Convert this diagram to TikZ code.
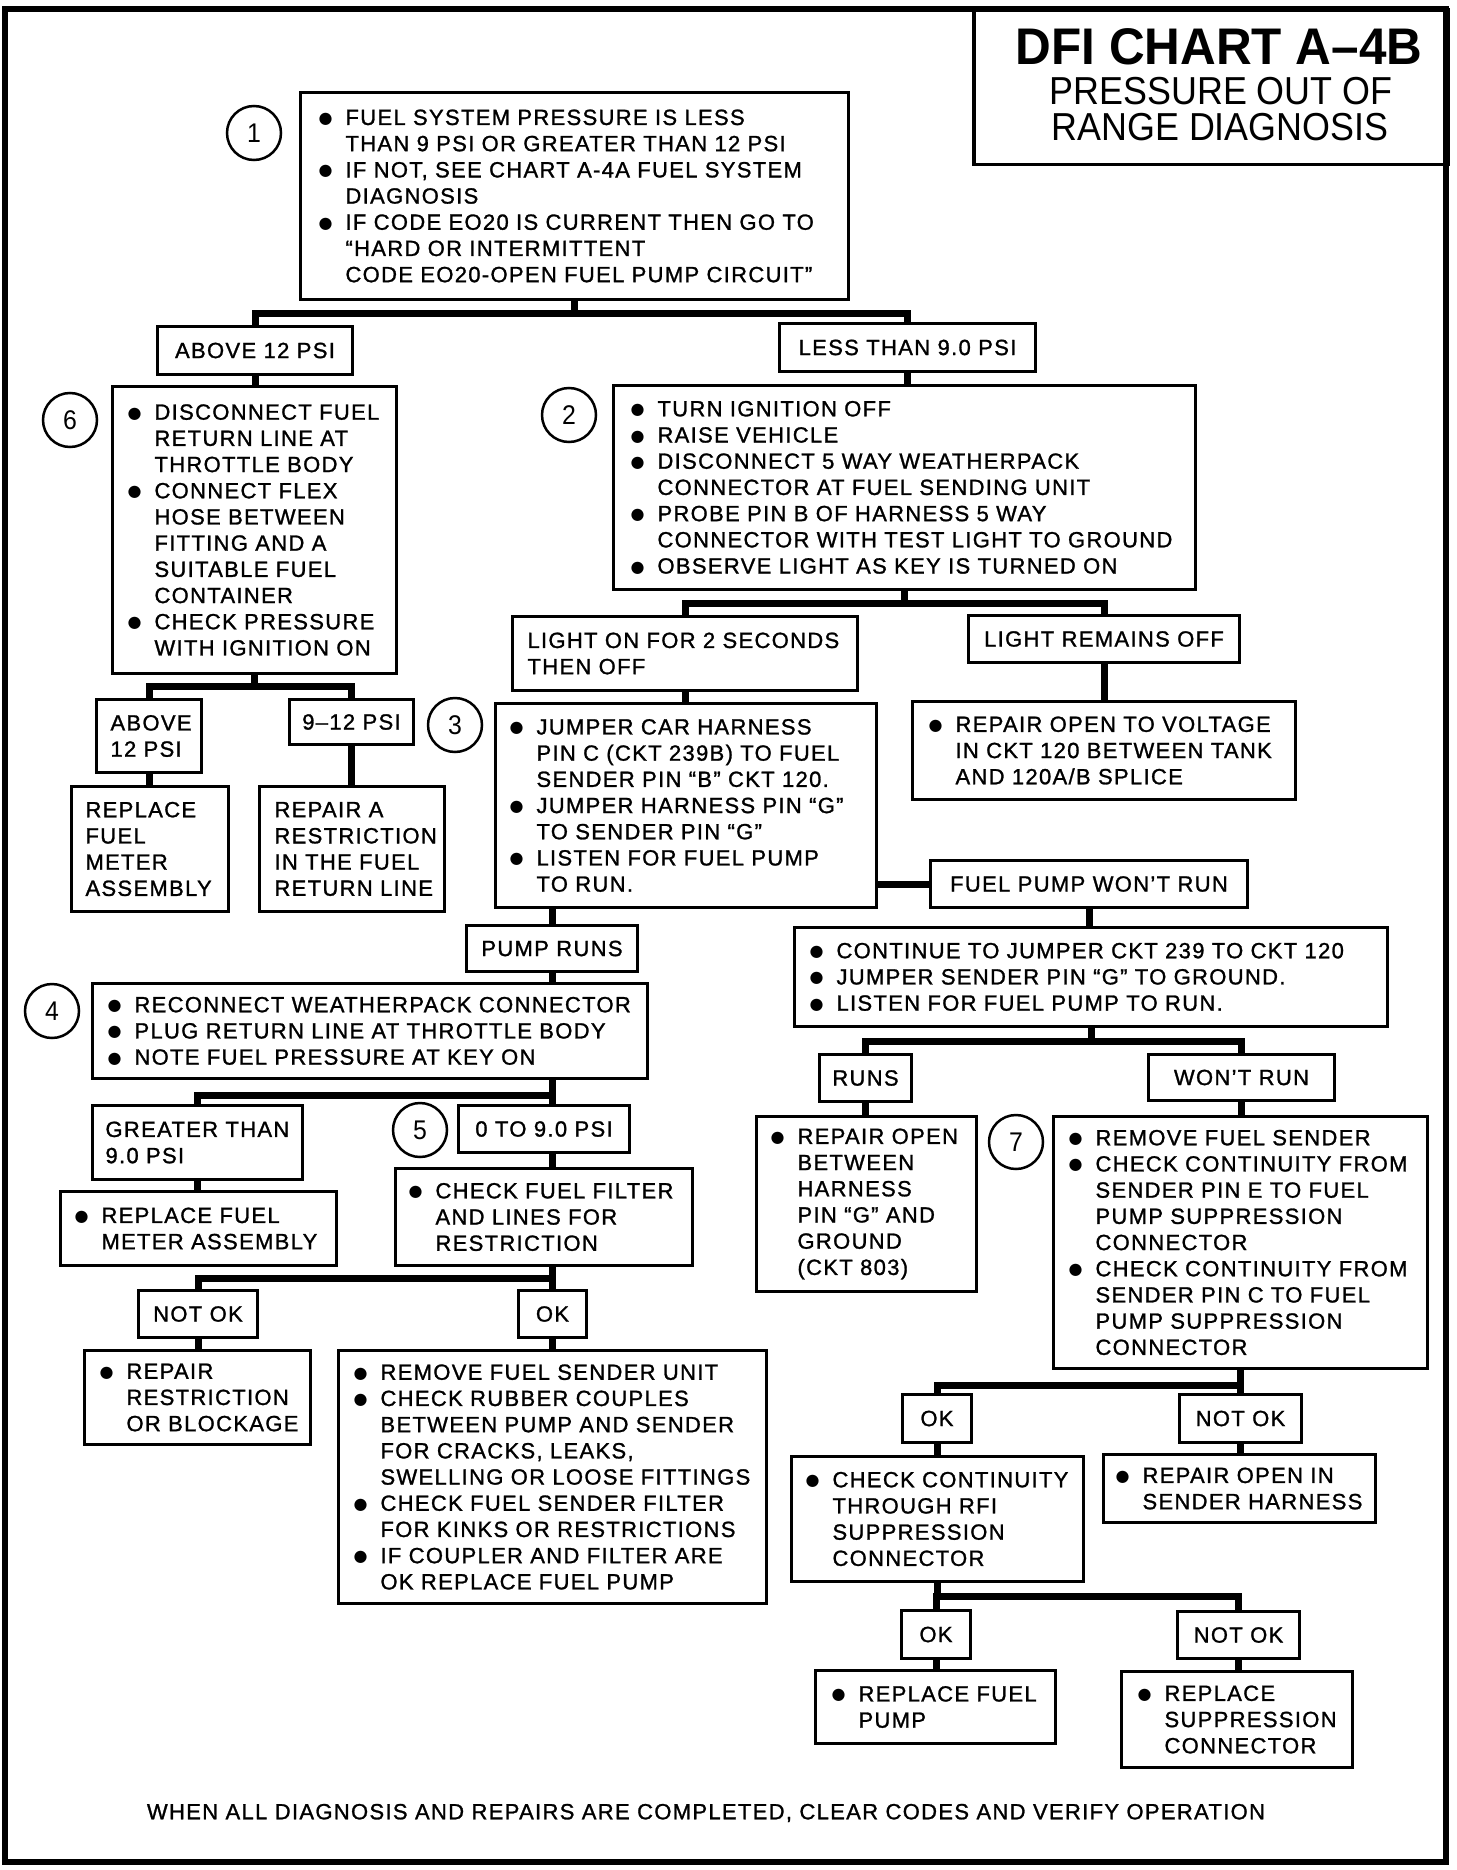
\documentclass[tikz,border=0pt]{standalone}
\usepackage{fontspec}
\setmainfont{Liberation Sans}[LetterSpace=6, FakeBold=1.2]
\newfontfamily\titlefont{Liberation Sans}[FakeStretch=0.96]
\newfontfamily\subfont{Liberation Sans}[FakeStretch=0.92]
\newfontfamily\bulfont{DejaVu Sans}
\newcommand{\bitem}[1]{\mbox{\makebox[21pt][l]{\hspace*{-6pt}\raisebox{1.5pt}{\bulfont\fontsize{16}{26}\selectfont ●}}#1}}
\newcommand{\bcont}[1]{\mbox{\hspace*{21pt}#1}}

\begin{document}
\begin{tikzpicture}[x=1pt, y=-1pt,
    box/.style={draw, line width=3pt, anchor=north west, inner xsep=20pt, inner ysep=0pt, align=left, font=\fontsize{22}{26.2}\selectfont},
    lbl/.style={draw, line width=3pt, anchor=north west, inner sep=0pt, align=center, font=\fontsize{22}{26.2}\selectfont},
    num/.style={circle, draw, line width=2.5pt, minimum size=54pt, inner sep=0pt, font=\subfont\fontsize{27}{27}\selectfont},
    conn/.style={line width=7pt},
    frame/.style={line width=6pt}]
    \useasboundingbox (0,0) rectangle (1456,1870);
    \draw[frame] (5,9) rectangle (1446,1862);

    % Title
    \node[draw, line width=3.5pt, anchor=north west, minimum width=474pt, minimum height=155pt, inner sep=0pt] (title) at (972,8) {};
    \node[font=\titlefont\bfseries\fontsize{51.5}{52}\selectfont, inner sep=0pt] (t1) at (1219,46.5) {DFI CHART A–4B};
    \node[font=\subfont\fontsize{39}{40}\selectfont, inner sep=0pt] (t2) at (1221,91) {PRESSURE OUT OF};
    \node[font=\subfont\fontsize{39}{40}\selectfont, inner sep=0pt] (t3) at (1220,127.5) {RANGE DIAGNOSIS};

    % Step numbers
    \node[num] (c1) at (254,133) {1};
    \node[num] (c6) at (70,420) {6};
    \node[num] (c2) at (569,415) {2};
    \node[num] (c3) at (455,725) {3};
    \node[num] (c4) at (52,1011) {4};
    \node[num] (c5) at (420,1130) {5};
    \node[num] (c7) at (1016,1142) {7};

    % Boxes
    \node[box, text width=500pt, inner xsep=24pt, minimum height=207pt] (b1) at (299,91)
        {\bitem{FUEL SYSTEM PRESSURE IS LESS}\\ \bcont{THAN 9 PSI OR GREATER THAN 12 PSI}\\
         \bitem{IF NOT, SEE CHART A-4A FUEL SYSTEM}\\ \bcont{DIAGNOSIS}\\
         \bitem{IF CODE EO20 IS CURRENT THEN GO TO}\\ \bcont{“HARD OR INTERMITTENT}\\
         \bcont{CODE EO20-OPEN FUEL PUMP CIRCUIT”}};
    \node[lbl, minimum width=195pt, minimum height=48pt] (a12) at (156,325) {ABOVE 12 PSI};
    \node[lbl, minimum width=256pt, minimum height=48pt] (l9) at (778,322) {LESS THAN 9.0 PSI};

    \node[box, text width=242pt, inner xsep=21pt, minimum height=287pt] (b6) at (111,385)
        {\bitem{DISCONNECT FUEL}\\ \bcont{RETURN LINE AT}\\ \bcont{THROTTLE BODY}\\
         \bitem{CONNECT FLEX}\\ \bcont{HOSE BETWEEN}\\ \bcont{FITTING AND A}\\
         \bcont{SUITABLE FUEL}\\ \bcont{CONTAINER}\\
         \bitem{CHECK PRESSURE}\\ \bcont{WITH IGNITION ON}};
    \node[box, text width=536pt, inner xsep=23pt, minimum height=204pt] (b2) at (612,384)
        {\bitem{TURN IGNITION OFF}\\ \bitem{RAISE VEHICLE}\\
         \bitem{DISCONNECT 5 WAY WEATHERPACK}\\ \bcont{CONNECTOR AT FUEL SENDING UNIT}\\
         \bitem{PROBE PIN B OF HARNESS 5 WAY}\\ \bcont{CONNECTOR WITH TEST LIGHT TO GROUND}\\
         \bitem{OBSERVE LIGHT AS KEY IS TURNED ON}};

    \node[box, text width=315pt, inner xsep=15pt, minimum height=74pt] (lon) at (511,615)
        {\mbox{LIGHT ON FOR 2 SECONDS}\\ \mbox{THEN OFF}};
    \node[lbl, minimum width=271pt, minimum height=47pt] (loff) at (967,614) {LIGHT REMAINS OFF};
    \node[box, text width=339pt, inner xsep=22pt, minimum height=98pt] (rv) at (911,700)
        {\bitem{REPAIR OPEN TO VOLTAGE}\\ \bcont{IN CKT 120 BETWEEN TANK}\\ \bcont{AND 120A/B SPLICE}};

    \node[box, text width=77pt, inner xsep=14pt, minimum height=73pt] (a12b) at (95,698)
        {\mbox{ABOVE}\\ \mbox{12 PSI}};
    \node[lbl, minimum width=124pt, minimum height=45pt] (p912) at (288,698) {9–12 PSI};
    \node[box, text width=129pt, inner xsep=14pt, minimum height=125pt] (rfm) at (70,785)
        {\mbox{REPLACE}\\ \mbox{FUEL}\\ \mbox{METER}\\ \mbox{ASSEMBLY}};
    \node[box, text width=155pt, inner xsep=15pt, minimum height=125pt] (rar) at (258,785)
        {\mbox{REPAIR A}\\ \mbox{RESTRICTION}\\ \mbox{IN THE FUEL}\\ \mbox{RETURN LINE}};

    \node[box, text width=341pt, inner xsep=20pt, minimum height=204pt] (b3) at (494,702)
        {\bitem{JUMPER CAR HARNESS}\\ \bcont{PIN C (CKT 239B) TO FUEL}\\ \bcont{SENDER PIN “B” CKT 120.}\\
         \bitem{JUMPER HARNESS PIN “G”}\\ \bcont{TO SENDER PIN “G”}\\
         \bitem{LISTEN FOR FUEL PUMP}\\ \bcont{TO RUN.}};
    \node[lbl, minimum width=317pt, minimum height=47pt] (fpwr) at (929,859) {FUEL PUMP WON'T RUN};
    \node[lbl, minimum width=171pt, minimum height=46pt] (pr) at (465,924) {PUMP RUNS};

    \node[box, text width=513pt, inner xsep=21pt, minimum height=95pt] (b4) at (91,982)
        {\bitem{RECONNECT WEATHERPACK CONNECTOR}\\ \bitem{PLUG RETURN LINE AT THROTTLE BODY}\\
         \bitem{NOTE FUEL PRESSURE AT KEY ON}};
    \node[box, text width=551pt, inner xsep=21pt, minimum height=99pt] (cont) at (793,926)
        {\bitem{CONTINUE TO JUMPER CKT 239 TO CKT 120}\\ \bitem{JUMPER SENDER PIN “G” TO GROUND.}\\
         \bitem{LISTEN FOR FUEL PUMP TO RUN.}};

    \node[box, text width=184pt, inner xsep=13pt, minimum height=74pt] (gt) at (91,1104)
        {\mbox{GREATER THAN}\\ \mbox{9.0 PSI}};
    \node[lbl, minimum width=171pt, minimum height=47pt] (p09) at (457,1104) {0 TO 9.0 PSI};
    \node[box, text width=236pt, inner xsep=20pt, minimum height=74pt] (rfm2) at (59,1190)
        {\bitem{REPLACE FUEL}\\ \bcont{METER ASSEMBLY}};
    \node[box, text width=259pt, inner xsep=19pt, minimum height=97pt] (cff) at (394,1167)
        {\bitem{CHECK FUEL FILTER}\\ \bcont{AND LINES FOR}\\ \bcont{RESTRICTION}};
    \node[lbl, minimum width=119pt, minimum height=47pt] (nok1) at (137,1289) {NOT OK};
    \node[lbl, minimum width=68pt, minimum height=47pt] (ok1) at (517,1289) {OK};
    \node[box, text width=184pt, inner xsep=21pt, minimum height=94pt] (rrb) at (83,1349)
        {\bitem{REPAIR}\\ \bcont{RESTRICTION}\\ \bcont{OR BLOCKAGE}};
    \node[box, text width=386pt, inner xsep=21pt, minimum height=253pt] (rfs) at (337,1349)
        {\bitem{REMOVE FUEL SENDER UNIT}\\ \bitem{CHECK RUBBER COUPLES}\\
         \bcont{BETWEEN PUMP AND SENDER}\\ \bcont{FOR CRACKS, LEAKS,}\\
         \bcont{SWELLING OR LOOSE FITTINGS}\\ \bitem{CHECK FUEL SENDER FILTER}\\
         \bcont{FOR KINKS OR RESTRICTIONS}\\ \bitem{IF COUPLER AND FILTER ARE}\\
         \bcont{OK REPLACE FUEL PUMP}};

    \node[lbl, minimum width=92pt, minimum height=47pt] (runs) at (818,1053) {RUNS};
    \node[lbl, minimum width=186pt, minimum height=46pt] (wr) at (1147,1053) {WON'T RUN};
    \node[box, text width=180pt, inner xsep=20pt, minimum height=175pt] (rob) at (755,1115)
        {\bitem{REPAIR OPEN}\\ \bcont{BETWEEN}\\ \bcont{HARNESS}\\ \bcont{PIN “G” AND}\\
         \bcont{GROUND}\\ \bcont{(CKT 803)}};
    \node[box, text width=332pt, inner xsep=21pt, minimum height=252pt] (b7) at (1052,1115)
        {\bitem{REMOVE FUEL SENDER}\\ \bitem{CHECK CONTINUITY FROM}\\
         \bcont{SENDER PIN E TO FUEL}\\ \bcont{PUMP SUPPRESSION}\\ \bcont{CONNECTOR}\\
         \bitem{CHECK CONTINUITY FROM}\\ \bcont{SENDER PIN C TO FUEL}\\
         \bcont{PUMP SUPPRESSION}\\ \bcont{CONNECTOR}};

    \node[lbl, minimum width=69pt, minimum height=48pt] (ok2) at (901,1393) {OK};
    \node[lbl, minimum width=122pt, minimum height=48pt] (nok2) at (1178,1393) {NOT OK};
    \node[box, text width=252pt, inner xsep=20pt, minimum height=125pt] (ccr) at (790,1455)
        {\bitem{CHECK CONTINUITY}\\ \bcont{THROUGH RFI}\\ \bcont{SUPPRESSION}\\ \bcont{CONNECTOR}};
    \node[box, text width=236pt, inner xsep=18pt, minimum height=68pt] (rsh) at (1102,1453)
        {\bitem{REPAIR OPEN IN}\\ \bcont{SENDER HARNESS}};
    \node[lbl, minimum width=69pt, minimum height=48pt] (ok3) at (900,1609) {OK};
    \node[lbl, minimum width=122pt, minimum height=47pt] (nok3) at (1176,1610) {NOT OK};
    \node[box, text width=196pt, inner xsep=22pt, minimum height=73pt] (rfp) at (814,1669)
        {\bitem{REPLACE FUEL}\\ \bcont{PUMP}};
    \node[box, text width=187pt, inner xsep=22pt, minimum height=96pt] (rsc) at (1120,1670)
        {\bitem{REPLACE}\\ \bcont{SUPPRESSION}\\ \bcont{CONNECTOR}};

    \node[font=\fontsize{22}{26.2}\selectfont, inner sep=0pt] (note) at (706,1813)
        {WHEN ALL DIAGNOSIS AND REPAIRS ARE COMPLETED, CLEAR CODES AND VERIFY OPERATION};

    % Paths
    \draw[conn] (b1.south) -- ++(0,12) coordinate (j1);
    \draw[conn] (a12.north) |- (j1) -| (l9.north);
    \draw[conn] (a12.south) -- (a12.south |- b6.north);
    \draw[conn] (l9.south) -- (l9.south |- b2.north);

    \draw[conn] (b6.south) -- ++(0,11) coordinate (j6);
    \draw[conn] (a12b.north) |- (j6) -| (p912.north);
    \draw[conn] (a12b.south) -- (a12b.south |- rfm.north);
    \draw[conn] (p912.south) -- (p912.south |- rar.north);

    \draw[conn] (b2.south) -- ++(0,12) coordinate (j2);
    \draw[conn] (lon.north) |- (j2) -| (loff.north);
    \draw[conn] (loff.south) -- (loff.south |- rv.north);
    \draw[conn] (lon.south) -- (lon.south |- b3.north);
    \draw[conn] (b3.east |- fpwr.west) -- (fpwr.west);
    \draw[conn] (pr.north |- b3.south) -- (pr.north);
    \draw[conn] (pr.south) -- (pr.south |- b4.north);

    \draw[conn] (b4.south -| pr.south) -- ++(0,15) coordinate (j4);
    \draw[conn] (gt.north) |- (j4) -- (j4 |- p09.north);
    \draw[conn] (gt.south) -- (gt.south |- rfm2.north);
    \draw[conn] (p09.south -| j4) -- (cff.north -| j4);
    \draw[conn] (cff.south -| ok1.north) -- ++(0,11) coordinate (j5);
    \draw[conn] (nok1.north) |- (j5) -- (ok1.north);
    \draw[conn] (nok1.south) -- (nok1.south |- rrb.north);
    \draw[conn] (ok1.south) -- (ok1.south |- rfs.north);

    \draw[conn] (fpwr.south) -- (fpwr.south |- cont.north);
    \draw[conn] (cont.south) -- ++(0,13) coordinate (jc);
    \draw[conn] (runs.north) |- (jc) -| (wr.north);
    \draw[conn] (runs.south) -- (runs.south |- rob.north);
    \draw[conn] (wr.south) -- (wr.south |- b7.north);

    \draw[conn] (b7.south) -- ++(0,15) coordinate (j7);
    \draw[conn] (ok2.north) |- (j7) -| (nok2.north);
    \draw[conn] (ok2.south) -- (ok2.south |- ccr.north);
    \draw[conn] (nok2.south) -- (nok2.south |- rsh.north);
    \draw[conn] (ccr.south) -- ++(0,13) coordinate (j8);
    \draw[conn] (ok3.north) |- (j8) -| (nok3.north);
    \draw[conn] (ok3.south) -- (ok3.south |- rfp.north);
    \draw[conn] (nok3.south) -- (nok3.south |- rsc.north);
\end{tikzpicture}
\end{document}
